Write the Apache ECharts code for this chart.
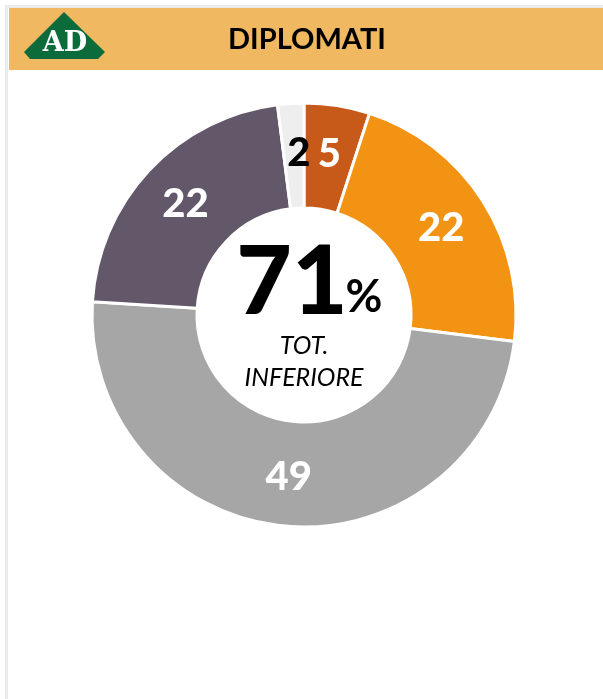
<!DOCTYPE html>
<html lang="it">
<head>
<meta charset="UTF-8">
<title>Diplomati</title>
<script src="https://cdn.jsdelivr.net/npm/echarts@6/dist/echarts.min.js"></script>
<style>
  html, body { margin: 0; padding: 0; background: #fff; }
  #main { width: 603px; height: 699px; }
</style>
</head>
<body>
<div id="main"></div>
<script>
// dati della torta (in senso orario partendo dall'alto)
var categorie = ['A', 'B', 'C', 'D', 'E'];
var valori = [5, 22, 49, 22, 2];
var colori = ['#C85A19', '#F39314', '#A6A6A6', '#62586A', '#EEEEEE'];
var coloriEtichette = ['#fff', '#fff', '#fff', '#fff', '#000'];
var titolo = 'DIPLOMATI';
var totale = '71';
var sottotitolo = 'TOT.\nINFERIORE';

var chart = echarts.init(document.getElementById('main'));

var dati = [];
for (var i = 0; i < valori.length; i++) {
    dati.push({
        name: categorie[i],
        value: valori[i],
        itemStyle: { color: colori[i] },
        label: { color: coloriEtichette[i] }
    });
}
// l'etichetta della fetta piccola e' spostata un po' a destra
dati[4].label.offset = [5, 0];

chart.setOption({
    backgroundColor: '#fff',
    animation: false,
    graphic: [
        // bordo grigio
        { type: 'rect', shape: { x: 5, y: 5, width: 598, height: 3 }, style: { fill: '#EBEBEB' } },
        { type: 'rect', shape: { x: 5, y: 5, width: 3, height: 694 }, style: { fill: '#EBEBEB' } },
        // barra titolo
        { type: 'rect', shape: { x: 9, y: 8, width: 594, height: 62 }, style: { fill: '#F0B860' } },
        // logo
        { type: 'polygon', shape: { points: [[64, 12], [105, 52], [98, 59], [30, 59], [24, 52]] }, style: { fill: '#0B6B3A' } },
        { type: 'text', x: 65, y: 44, style: { text: 'AD', fill: '#fff', font: 'bold 27px "DejaVu Serif"', align: 'center', verticalAlign: 'middle', textShadowColor: 'rgba(0,0,0,0.6)', textShadowOffsetX: 1, textShadowOffsetY: 1 } },
        { type: 'text', x: 307, y: 40, style: { text: titolo, fill: '#000', font: 'bold 29px Lato', align: 'center', verticalAlign: 'middle' } },
        // testo centrale
        { type: 'text', x: 292, y: 283, z: 10, style: { text: totale, fill: '#000', font: '900 96px Lato', align: 'center', verticalAlign: 'middle' } },
        { type: 'text', x: 364, y: 297, z: 10, style: { text: '%', fill: '#000', font: 'bold 45px Lato', align: 'center', verticalAlign: 'middle' } },
        { type: 'text', x: 304, y: 362, z: 10, style: { text: sottotitolo, fill: '#000', font: 'italic 25px Lato', align: 'center', verticalAlign: 'middle', lineHeight: 32 } }
    ],
    series: [{
        type: 'pie',
        center: [304, 315],
        radius: [107, 212],
        startAngle: 90,
        clockwise: true,
        avoidLabelOverlap: false,
        itemStyle: { borderColor: '#fff', borderWidth: 3 },
        label: {
            show: true,
            position: 'inside',
            formatter: '{c}',
            fontFamily: 'Lato',
            fontWeight: 900,
            fontSize: 40
        },
        labelLine: { show: false },
        emphasis: { disabled: true },
        data: dati
    }]
});
</script>
</body>
</html>
